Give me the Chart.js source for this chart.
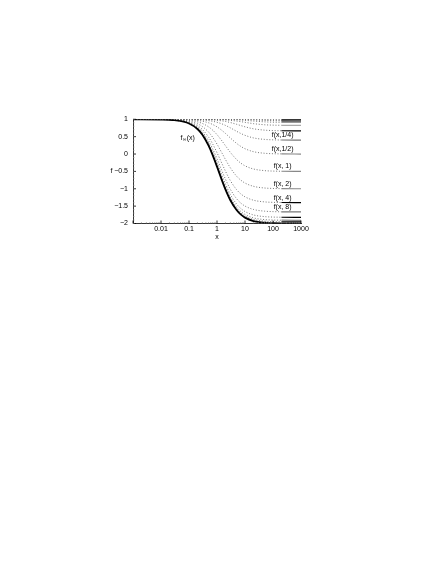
<!DOCTYPE html>
<html>
<head>
<meta charset="utf-8">
<title>f(x, a)</title>
<script src="https://cdn.jsdelivr.net/npm/chart.js@4/dist/chart.umd.min.js"></script>
<style>
    body {
        margin: 0;
        padding: 0;
        background: #fff;
    }
    canvas {
        display: block;
    }
</style>
</head>
<body>
<canvas id="chart" width="436" height="564"></canvas>
<script>
    // sample points along x (log axis)
    const xs = [0.001, 0.01, 0.03, 0.1, 0.2, 0.3, 0.5, 0.7, 1, 1.5, 2, 3, 5, 7, 10, 20, 50, 100, 200, 1000];

    const fInf    = [1.000, 0.994, 0.974, 0.880, 0.720, 0.555, 0.241, -0.032, -0.364, -0.757, -1.017, -1.330, -1.613, -1.738, -1.830, -1.929, -1.978, -1.991, -1.996, -2.000];
    const f_64    = [1.000, 0.994, 0.975, 0.883, 0.728, 0.567, 0.261, -0.006, -0.332, -0.718, -0.976, -1.286, -1.568, -1.693, -1.784, -1.883, -1.932, -1.945, -1.950, -1.954];
    const f_32    = [1.000, 0.994, 0.976, 0.887, 0.736, 0.579, 0.281, 0.019, -0.300, -0.681, -0.936, -1.244, -1.524, -1.648, -1.739, -1.838, -1.887, -1.900, -1.905, -1.909];
    const f_16    = [1.000, 0.994, 0.977, 0.893, 0.751, 0.602, 0.317, 0.067, -0.242, -0.612, -0.861, -1.163, -1.440, -1.564, -1.655, -1.753, -1.802, -1.815, -1.820, -1.823];
    const f_8     = [1.000, 0.995, 0.979, 0.905, 0.777, 0.642, 0.383, 0.152, -0.135, -0.485, -0.723, -1.015, -1.286, -1.408, -1.498, -1.595, -1.645, -1.658, -1.663, -1.666];
    const f_4     = [1.000, 0.996, 0.983, 0.922, 0.817, 0.706, 0.488, 0.291, 0.040, -0.273, -0.492, -0.765, -1.025, -1.144, -1.232, -1.329, -1.378, -1.391, -1.396, -1.400];
    const f_2     = [1.000, 0.997, 0.988, 0.946, 0.872, 0.792, 0.632, 0.482, 0.286, 0.030, -0.156, -0.397, -0.637, -0.749, -0.835, -0.929, -0.978, -0.991, -0.996, -1.000];
    const f_1     = [1.000, 0.998, 0.993, 0.969, 0.927, 0.880, 0.783, 0.688, 0.559, 0.379, 0.240, 0.048, -0.157, -0.259, -0.339, -0.430, -0.478, -0.491, -0.496, -0.500];
    const f_1_2   = [1.000, 0.999, 0.997, 0.986, 0.967, 0.945, 0.899, 0.851, 0.783, 0.680, 0.594, 0.463, 0.307, 0.223, 0.153, 0.068, 0.022, 0.009, 0.004, 0.000];
    const f_1_4   = [1.000, 1.000, 0.999, 0.995, 0.988, 0.980, 0.962, 0.943, 0.914, 0.868, 0.825, 0.754, 0.655, 0.594, 0.539, 0.465, 0.421, 0.409, 0.404, 0.400];
    const f_1_8   = [1.000, 1.000, 1.000, 0.998, 0.996, 0.994, 0.988, 0.982, 0.972, 0.955, 0.938, 0.907, 0.857, 0.821, 0.784, 0.727, 0.688, 0.675, 0.670, 0.667];
    const f_1_16  = [1.000, 1.000, 1.000, 1.000, 0.999, 0.998, 0.997, 0.995, 0.992, 0.986, 0.981, 0.970, 0.950, 0.933, 0.913, 0.875, 0.843, 0.832, 0.827, 0.824];
    const f_1_32  = [1.000, 1.000, 1.000, 1.000, 1.000, 1.000, 0.999, 0.999, 0.998, 0.996, 0.995, 0.991, 0.985, 0.978, 0.970, 0.950, 0.927, 0.917, 0.913, 0.910];
    const f_1_64  = [1.000, 1.000, 1.000, 1.000, 1.000, 1.000, 1.000, 1.000, 0.999, 0.999, 0.999, 0.998, 0.996, 0.994, 0.991, 0.982, 0.969, 0.961, 0.957, 0.954];
    const f_1_128 = [1.000, 1.000, 1.000, 1.000, 1.000, 1.000, 1.000, 1.000, 1.000, 1.000, 1.000, 0.999, 0.999, 0.998, 0.997, 0.994, 0.988, 0.983, 0.980, 0.977];
    const f_1_256 = [1.000, 1.000, 1.000, 1.000, 1.000, 1.000, 1.000, 1.000, 1.000, 1.000, 1.000, 1.000, 1.000, 1.000, 0.999, 0.998, 0.996, 0.993, 0.991, 0.989];

    const curveNames = ['1/256', '1/128', '1/64', '1/32', '1/16', '1/8', '1/4', '1/2', '1', '2', '4', '8', '16', '32', '64'];
    const curveData = [f_1_256, f_1_128, f_1_64, f_1_32, f_1_16, f_1_8, f_1_4, f_1_2, f_1, f_2, f_4, f_8, f_16, f_32, f_64];
    const endColors = ['#000', '#999', '#000', '#999', '#aaa', '#000', '#777', '#888', '#888', '#888', '#000', '#777', '#000', '#888', '#000'];
    const labelled = ['1/4', '1/2', '1', '2', '4', '8'];
    const labelText = {'1/4': 'f(x,1/4)', '1/2': 'f(x,1/2)', '1': 'f(x, 1)', '2': 'f(x, 2)', '4': 'f(x, 4)', '8': 'f(x, 8)'};

    const xTicks = [0.01, 0.1, 1, 10, 100, 1000];
    const yTicks = [1, 0.5, 0, -0.5, -1, -1.5, -2];

    const FONT = '"Liberation Sans Narrow", "Liberation Sans", Arial, sans-serif';
    const solidFrom = 200;
    const DOTS = '#666';

    const pts = arr => xs.map((x, i) => ({x: x, y: arr[i]}));

    const datasets = [{
        label: 'f_inf',
        data: pts(fInf),
        borderColor: '#000',
        borderWidth: 1.8,
        pointRadius: 0,
        cubicInterpolationMode: 'monotone'
    }];

    curveData.forEach((arr, k) => {
        datasets.push({
            label: curveNames[k],
            data: pts(arr),
            borderColor: DOTS,
            borderWidth: 0.9,
            pointRadius: 0,
            cubicInterpolationMode: 'monotone',
            segment: {
                borderDash: c => c.p0.parsed.x >= solidFrom ? [] : [1, 1.8],
                borderColor: c => c.p0.parsed.x >= solidFrom ? endColors[k] : DOTS,
                borderWidth: c => c.p0.parsed.x >= solidFrom ? 1.2 : 0.9
            }
        });
    });

    const annotate = {
        id: 'annotate',
        afterDatasetsDraw(chart) {
            const ctx = chart.ctx;
            const xs_ = chart.scales.x, ys_ = chart.scales.y;
            const area = chart.chartArea;
            ctx.save();
            ctx.lineWidth = 0.8;

            // inward ticks
            ctx.strokeStyle = '#000';
            ctx.beginPath();
            for (let e = -3; e <= 3; e++) {
                const px = xs_.getPixelForValue(Math.pow(10, e));
                ctx.moveTo(px, area.bottom);
                ctx.lineTo(px, area.bottom - 3);
            }
            yTicks.forEach(v => {
                const py = ys_.getPixelForValue(v);
                ctx.moveTo(area.left, py);
                ctx.lineTo(area.left + 3, py);
            });
            ctx.stroke();

            ctx.strokeStyle = '#888';
            ctx.lineWidth = 0.6;
            ctx.beginPath();
            for (let e = -3; e < 3; e++) {
                for (let m = 2; m < 10; m++) {
                    const mx = xs_.getPixelForValue(m * Math.pow(10, e));
                    ctx.moveTo(mx, area.bottom);
                    ctx.lineTo(mx, area.bottom - 1.5);
                }
            }
            for (let v = -2; v <= 1.001; v += 0.1) {
                const py = ys_.getPixelForValue(v);
                ctx.moveTo(area.left, py);
                ctx.lineTo(area.left + 1.5, py);
            }
            ctx.stroke();

            ctx.fillStyle = '#000';
            ctx.font = '7px ' + FONT;
            ctx.textAlign = 'center';
            ctx.textBaseline = 'middle';

            // curve labels above their end lines
            labelled.forEach(name => {
                const k = curveNames.indexOf(name);
                const arr = curveData[k];
                const py = ys_.getPixelForValue(arr[arr.length - 1]);
                ctx.fillText(labelText[name], xs_.getPixelForValue(220), py - 5);
            });

            // f_inf(x)
            ctx.textAlign = 'left';
            let lx = xs_.getPixelForValue(0.05);
            const ly = ys_.getPixelForValue(0.46);
            ctx.fillText('f', lx, ly);
            lx += ctx.measureText('f').width + 0.3;
            ctx.font = '5px ' + FONT;
            ctx.fillText('\u221e', lx, ly + 2);
            lx += ctx.measureText('\u221e').width + 0.3;
            ctx.font = '7px ' + FONT;
            ctx.fillText('(x)', lx, ly);

            // axis titles
            ctx.textAlign = 'center';
            ctx.fillText('f', area.left - 21.5, (area.top + area.bottom) / 2);
            ctx.fillText('x', xs_.getPixelForValue(1), area.bottom + 14);
            ctx.restore();
        }
    };

    new Chart(document.getElementById('chart'), {
        type: 'line',
        data: {datasets: datasets},
        options: {
            responsive: false,
            animation: false,
            layout: {padding: {left: 100, right: 135, top: 119.3, bottom: 320.5}},
            plugins: {
                legend: {display: false},
                tooltip: {enabled: false}
            },
            scales: {
                x: {
                    type: 'logarithmic',
                    min: 0.001,
                    max: 1000,
                    afterBuildTicks: s => { s.ticks = xTicks.map(v => ({value: v})); },
                    afterFit: s => { s.height = 20; },
                    ticks: {
                        color: '#000',
                        font: {family: FONT, size: 7},
                        padding: 1,
                        maxRotation: 0,
                        autoSkip: false,
                        callback: v => String(v)
                    },
                    grid: {display: false, drawTicks: false},
                    border: {display: true, color: '#000', width: 0.8}
                },
                y: {
                    min: -2,
                    max: 1,
                    afterBuildTicks: s => { s.ticks = yTicks.map(v => ({value: v})); },
                    afterFit: s => { s.width = 33; },
                    ticks: {
                        color: '#000',
                        font: {family: FONT, size: 7},
                        padding: 5,
                        callback: v => String(v).replace('-', '\u2212')
                    },
                    grid: {display: false, drawTicks: false},
                    border: {display: true, color: '#000', width: 0.8}
                }
            }
        },
        plugins: [annotate]
    });
</script>
</body>
</html>
